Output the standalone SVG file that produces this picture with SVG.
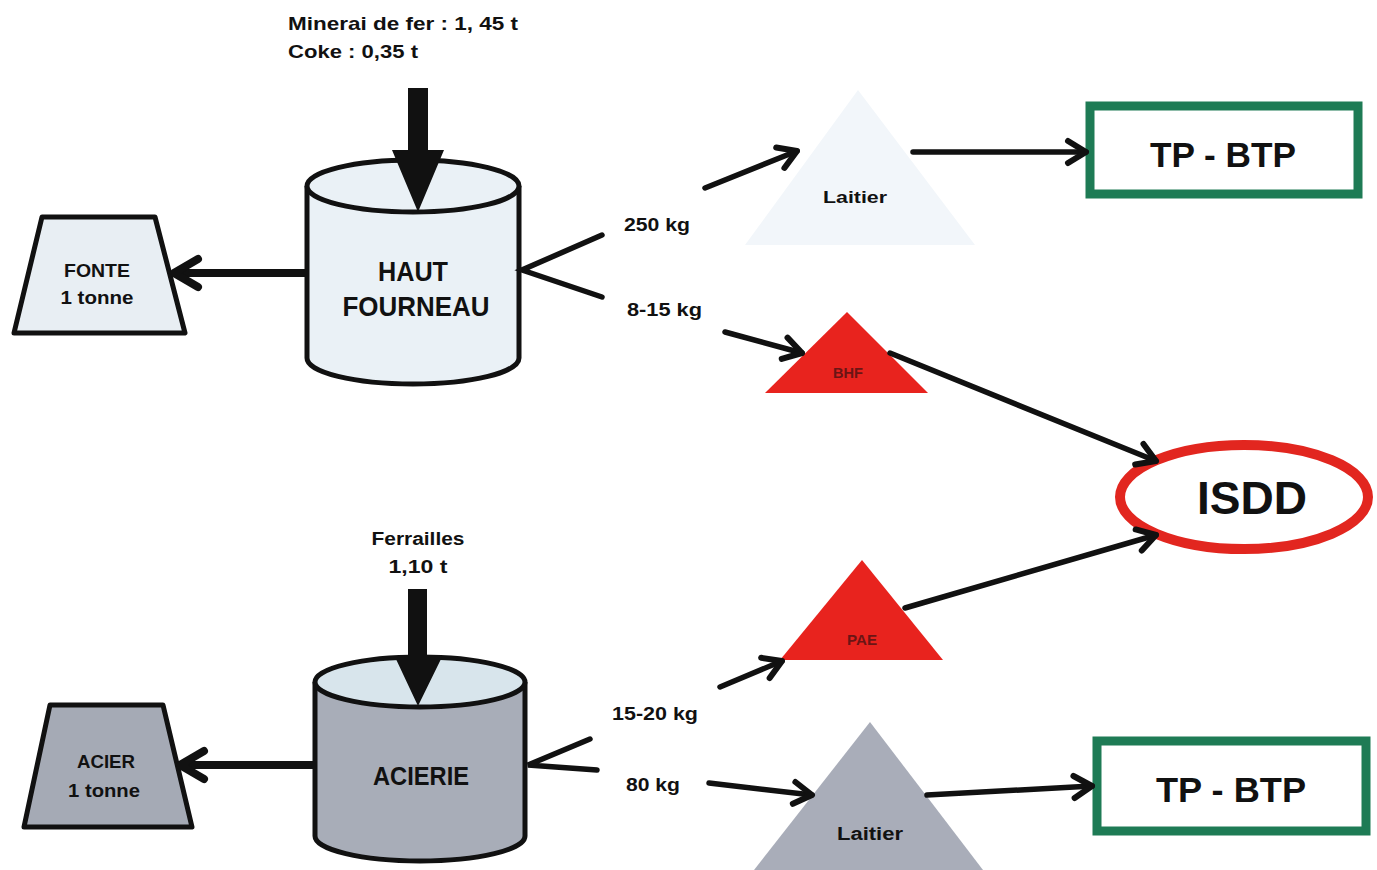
<svg xmlns="http://www.w3.org/2000/svg" width="1377" height="870" viewBox="0 0 1377 870">
<style>
text{font-family:"Liberation Sans",Arial,sans-serif;font-weight:bold;fill:#111}
.mid{text-anchor:middle}
.ln{stroke:#111;stroke-width:5.5;fill:none;stroke-linecap:round}
.thick{stroke:#111;stroke-width:8;fill:none}
.shape{stroke:#111;stroke-width:5;stroke-linejoin:round}
.red{fill:#e8231e}
.small{font-size:14px;fill:#6b1515}
.lbl{font-size:18px}
.tp{fill:#fff;stroke:#1e7b55;stroke-width:9}
</style>
<defs>
<marker id="chev" markerUnits="userSpaceOnUse" markerWidth="30" markerHeight="30" viewBox="0 0 30 30" refX="24" refY="15" orient="auto">
<path d="M6,4 L24,15 L6,26" fill="none" stroke="#111" stroke-width="6" stroke-linecap="round" stroke-linejoin="round"/>
</marker>
<marker id="chevB" markerUnits="userSpaceOnUse" markerWidth="40" markerHeight="40" viewBox="0 0 40 40" refX="32" refY="20" orient="auto">
<path d="M8,6 L32,20 L8,34" fill="none" stroke="#111" stroke-width="8" stroke-linecap="round" stroke-linejoin="round"/>
</marker>
</defs>
<rect width="1377" height="870" fill="#fff"/>

<g id="input-top">
<text x="288" y="30" font-size="19" textLength="230" lengthAdjust="spacingAndGlyphs">Minerai de fer : 1, 45 t</text>
<text x="288" y="58" font-size="19" textLength="130" lengthAdjust="spacingAndGlyphs">Coke : 0,35 t</text>
</g>

<g id="haut-fourneau">
<path d="M307,186 V358 A106,26 0 0 0 519,358 V186" fill="#eaf1f6" class="shape"/>
<ellipse cx="413" cy="186" rx="106" ry="26" fill="#eaf1f6" class="shape"/>
<text x="413" y="281" class="mid" font-size="28" textLength="70" lengthAdjust="spacingAndGlyphs">HAUT</text>
<text x="416" y="316" class="mid" font-size="28" textLength="147" lengthAdjust="spacingAndGlyphs">FOURNEAU</text>
</g>

<g id="fonte">
<polygon points="42,217 155,217 185,333 14,333" fill="#e8eef3" class="shape"/>
<text x="97" y="277" class="mid lbl" textLength="66" lengthAdjust="spacingAndGlyphs">FONTE</text>
<text x="97" y="304" class="mid lbl" textLength="73" lengthAdjust="spacingAndGlyphs">1 tonne</text>
</g>

<g id="laitier-top">
<polygon points="858,90 975,245 745,245" fill="#f2f6fa"/>
<text x="855" y="203" class="mid" font-size="17" textLength="64" lengthAdjust="spacingAndGlyphs">Laitier</text>
</g>

<g id="tp-btp-top">
<rect x="1090" y="106" width="268" height="88" class="tp"/>
<text x="1223" y="167" class="mid" font-size="35" textLength="146" lengthAdjust="spacingAndGlyphs">TP - BTP</text>
</g>

<g id="bhf">
<polygon points="847,312 928,393 765,393" class="red"/>
<text x="848" y="378" class="mid small" textLength="30" lengthAdjust="spacingAndGlyphs">BHF</text>
</g>

<g id="isdd">
<ellipse cx="1244" cy="497" rx="124" ry="52" fill="#fff" stroke="#e2261f" stroke-width="10"/>
<text x="1252" y="514" class="mid" font-size="46" textLength="110" lengthAdjust="spacingAndGlyphs">ISDD</text>
</g>

<g id="input-bottom">
<text x="418" y="545" class="mid lbl" textLength="93" lengthAdjust="spacingAndGlyphs">Ferrailles</text>
<text x="418" y="573" class="mid lbl" textLength="59" lengthAdjust="spacingAndGlyphs">1,10 t</text>
</g>

<g id="acierie">
<path d="M315,682 V836 A105,25 0 0 0 525,836 V682" fill="#a8adb8" class="shape"/>
<ellipse cx="420" cy="682" rx="105" ry="25" fill="#d8e5ec" class="shape"/>
<text x="421" y="785" class="mid" font-size="26" textLength="96" lengthAdjust="spacingAndGlyphs" fill="#222a35">ACIERIE</text>
</g>

<g id="acier">
<polygon points="50,705 163,705 192,827 24,827" fill="#a5aab5" class="shape"/>
<text x="106" y="768" class="mid lbl" textLength="58" lengthAdjust="spacingAndGlyphs" fill="#2a2f3a">ACIER</text>
<text x="104" y="797" class="mid lbl" textLength="72" lengthAdjust="spacingAndGlyphs" fill="#2a2f3a">1 tonne</text>
</g>

<g id="pae">
<polygon points="862,560 943,660 780,660" class="red"/>
<text x="862" y="645" class="mid small" textLength="30" lengthAdjust="spacingAndGlyphs">PAE</text>
</g>

<g id="laitier-bottom">
<polygon points="870,722 983,870 754,870" fill="#a9adb9"/>
<text x="870" y="840" class="mid lbl" textLength="66" lengthAdjust="spacingAndGlyphs" fill="#1d2430">Laitier</text>
</g>

<g id="tp-btp-bottom">
<rect x="1097" y="741" width="269" height="90" class="tp"/>
<text x="1231" y="802" class="mid" font-size="35" textLength="150" lengthAdjust="spacingAndGlyphs">TP - BTP</text>
</g>

<g id="flow-labels">
<text x="624" y="231" class="lbl" textLength="66" lengthAdjust="spacingAndGlyphs">250 kg</text>
<text x="627" y="316" class="lbl" textLength="75" lengthAdjust="spacingAndGlyphs">8-15 kg</text>
<text x="612" y="720" class="lbl" textLength="86" lengthAdjust="spacingAndGlyphs">15-20 kg</text>
<text x="626" y="791" class="lbl" textLength="54" lengthAdjust="spacingAndGlyphs">80 kg</text>
</g>

<g id="connectors">
<polygon points="408,88 428,88 428,150 444,150 418,212 392,150 408,150" fill="#111"/>
<polygon points="408,589 427,589 427,657 442,657 418,706 395,657 408,657" fill="#111"/>
<line x1="307" y1="273" x2="174" y2="273" class="thick" marker-end="url(#chevB)"/>
<line x1="315" y1="765" x2="180" y2="765" class="thick" marker-end="url(#chevB)"/>
<polyline points="602,235 522,270 602,297" class="ln" stroke-width="6" stroke-linejoin="miter"/>
<polyline points="590,739 528,765 597,770" class="ln" stroke-width="6" stroke-linejoin="miter"/>
<line x1="705" y1="188" x2="797" y2="151" class="ln" stroke-width="7" marker-end="url(#chev)"/>
<line x1="725" y1="332" x2="802" y2="353" class="ln" marker-end="url(#chev)"/>
<line x1="913" y1="152" x2="1086" y2="152" class="ln" marker-end="url(#chev)"/>
<line x1="890" y1="353" x2="1156" y2="461" class="ln" marker-end="url(#chev)"/>
<line x1="905" y1="608" x2="1156" y2="535" class="ln" marker-end="url(#chev)"/>
<line x1="720" y1="687" x2="782" y2="661" class="ln" marker-end="url(#chev)"/>
<line x1="709" y1="783" x2="812" y2="795" class="ln" marker-end="url(#chev)"/>
<line x1="927" y1="795" x2="1092" y2="786" class="ln" marker-end="url(#chev)"/>
</g>
</svg>
